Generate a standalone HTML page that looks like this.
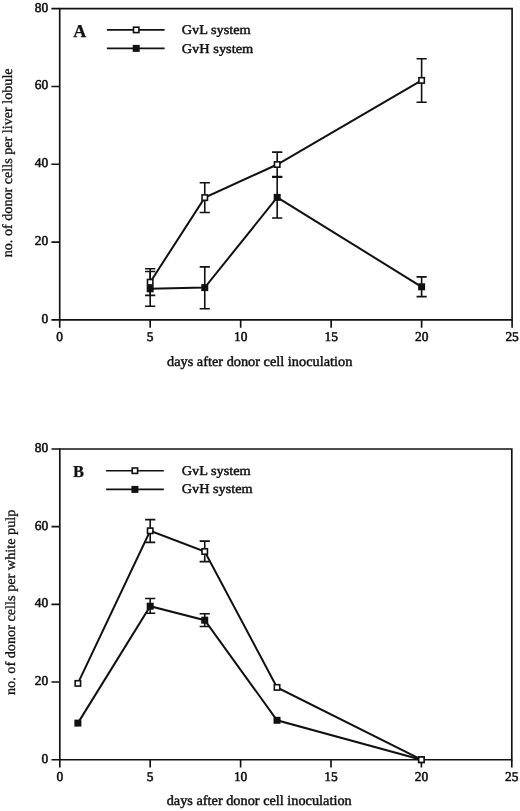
<!DOCTYPE html>
<html><head><meta charset="utf-8"><title>Figure</title>
<style>
html,body{margin:0;padding:0;background:#fff;}
body{width:520px;height:811px;overflow:hidden;font-family:"Liberation Serif", serif;}
svg{display:block;will-change:transform;filter:grayscale(1);}
text{text-rendering:geometricPrecision;font-family:"Liberation Serif", serif;fill:#111;stroke:#111;stroke-width:0.45px;stroke-linejoin:round;}
.tk{font-size:13.4px;stroke-width:0.55px;text-rendering:geometricPrecision;}
.lg{font-size:13.3px;}
.ax{font-size:14px;}
.yl{stroke-width:0.32px;}
.pl{font-size:18px;font-weight:bold;stroke-width:0.25px;}
</style></head><body>
<svg width="520" height="811" viewBox="0 0 520 811">
<rect width="520" height="811" fill="#fff"/>
<g id="panelA">
<path d="M59.7 319.85V8.65H512.1V319.85Z" fill="none" stroke="#111" stroke-width="1.65"/>
<path d="M51.4 319.85H59.7M51.4 242.05H59.7M51.4 164.25H59.7M51.4 86.45H59.7M51.4 8.65H59.7M59.7 319.85V327.75M150.18 319.85V327.75M240.66 319.85V327.75M331.14 319.85V327.75M421.62 319.85V327.75M512.1 319.85V327.75" stroke="#111" stroke-width="1.65" fill="none"/>
<text transform="translate(48.1 322.8) scale(1 1)" text-anchor="end" class="tk">0</text>
<text transform="translate(48.1 245) scale(1 1)" text-anchor="end" class="tk">20</text>
<text transform="translate(48.1 167.2) scale(1 1)" text-anchor="end" class="tk">40</text>
<text transform="translate(48.1 89.4) scale(1 1)" text-anchor="end" class="tk">60</text>
<text transform="translate(48.1 11.6) scale(1 1)" text-anchor="end" class="tk">80</text>
<text transform="translate(59.7 341.45) scale(1 1)" text-anchor="middle" class="tk">0</text>
<text transform="translate(150.18 341.45) scale(1 1)" text-anchor="middle" class="tk">5</text>
<text transform="translate(240.66 341.45) scale(1 1)" text-anchor="middle" class="tk">10</text>
<text transform="translate(331.14 341.45) scale(1 1)" text-anchor="middle" class="tk">15</text>
<text transform="translate(421.62 341.45) scale(1 1)" text-anchor="middle" class="tk">20</text>
<text transform="translate(512.1 341.45) scale(1 1)" text-anchor="middle" class="tk">25</text>
<path d="M150.18 271.5V306.2M145.08 271.5H155.28M145.08 306.2H155.28M204.76 266.9V308.7M199.66 266.9H209.86M199.66 308.7H209.86M277.18 176.6V218M272.08 176.6H282.28M272.08 218H282.28M421.62 276.9V296.6M416.52 276.9H426.72M416.52 296.6H426.72" stroke="#111" stroke-width="1.6" fill="none"/>
<polyline points="150.18,288.8 204.76,287.6 277.18,197.4 421.62,286.8" fill="none" stroke="#111" stroke-width="2.0" stroke-linejoin="miter"/>
<rect x="146.68" y="285.3" width="7" height="7" fill="#111"/><rect x="201.26" y="284.1" width="7" height="7" fill="#111"/><rect x="273.68" y="193.9" width="7" height="7" fill="#111"/><rect x="418.12" y="283.3" width="7" height="7" fill="#111"/>
<path d="M150.18 268.8V295.4M145.08 268.8H155.28M145.08 295.4H155.28M204.76 182.8V212.5M199.66 182.8H209.86M199.66 212.5H209.86M277.18 152.1V177.1M272.08 152.1H282.28M272.08 177.1H282.28M421.62 58.8V102.3M416.52 58.8H426.72M416.52 102.3H426.72" stroke="#111" stroke-width="1.6" fill="none"/>
<polyline points="150.18,282.2 204.76,197.6 277.18,164.5 421.62,80.4" fill="none" stroke="#111" stroke-width="2.0" stroke-linejoin="miter"/>
<rect x="147.48" y="279.5" width="5.4" height="5.4" fill="#fff" stroke="#111" stroke-width="1.6"/><rect x="202.06" y="194.9" width="5.4" height="5.4" fill="#fff" stroke="#111" stroke-width="1.6"/><rect x="274.48" y="161.8" width="5.4" height="5.4" fill="#fff" stroke="#111" stroke-width="1.6"/><rect x="418.92" y="77.7" width="5.4" height="5.4" fill="#fff" stroke="#111" stroke-width="1.6"/>
<path d="M106.9 29.9H164.6M106.9 48.4H164.6" stroke="#111" stroke-width="1.6" fill="none"/>
<rect x="133.5" y="27.2" width="5.4" height="5.4" fill="#fff" stroke="#111" stroke-width="1.6"/>
<rect x="132.7" y="44.9" width="7" height="7" fill="#111"/>
<text x="181.7" y="34.4" class="lg" textLength="69.0" lengthAdjust="spacingAndGlyphs">GvL system</text>
<text x="181.7" y="52.8" class="lg" textLength="71.6" lengthAdjust="spacingAndGlyphs">GvH system</text>
<text transform="translate(73.3 36.5) scale(1 1)" class="pl" style="font-size:18px">A</text>
<text transform="translate(12.4 162.85) rotate(-90)" text-anchor="middle" class="ax yl" textLength="188.9" lengthAdjust="spacingAndGlyphs">no. of donor cells per liver lobule</text>
<text x="167.0" y="366.2" class="ax" textLength="185.3" lengthAdjust="spacingAndGlyphs">days after donor cell inoculation</text>
</g>
<g id="panelB">
<path d="M59.8 759.7V449H511.8V759.7Z" fill="none" stroke="#111" stroke-width="1.65"/>
<path d="M51.5 759.7H59.8M51.5 682.03H59.8M51.5 604.35H59.8M51.5 526.67H59.8M51.5 449H59.8M59.8 759.7V767.6M150.2 759.7V767.6M240.6 759.7V767.6M331 759.7V767.6M421.4 759.7V767.6M511.8 759.7V767.6" stroke="#111" stroke-width="1.65" fill="none"/>
<text transform="translate(48.2 762.65) scale(1 1)" text-anchor="end" class="tk">0</text>
<text transform="translate(48.2 684.98) scale(1 1)" text-anchor="end" class="tk">20</text>
<text transform="translate(48.2 607.3) scale(1 1)" text-anchor="end" class="tk">40</text>
<text transform="translate(48.2 529.62) scale(1 1)" text-anchor="end" class="tk">60</text>
<text transform="translate(48.2 451.95) scale(1 1)" text-anchor="end" class="tk">80</text>
<text transform="translate(59.8 781.3) scale(1 1)" text-anchor="middle" class="tk">0</text>
<text transform="translate(150.2 781.3) scale(1 1)" text-anchor="middle" class="tk">5</text>
<text transform="translate(240.6 781.3) scale(1 1)" text-anchor="middle" class="tk">10</text>
<text transform="translate(331 781.3) scale(1 1)" text-anchor="middle" class="tk">15</text>
<text transform="translate(421.4 781.3) scale(1 1)" text-anchor="middle" class="tk">20</text>
<text transform="translate(511.8 781.3) scale(1 1)" text-anchor="middle" class="tk">25</text>
<path d="M150.2 598.5V613.3M145.1 598.5H155.3M145.1 613.3H155.3M204.73 613.8V626.5M199.63 613.8H209.83M199.63 626.5H209.83" stroke="#111" stroke-width="1.6" fill="none"/>
<polyline points="77.88,723.1 150.2,606.2 204.73,620.2 277.03,720.3 421.4,759.7" fill="none" stroke="#111" stroke-width="2.0" stroke-linejoin="miter"/>
<rect x="74.38" y="719.6" width="7" height="7" fill="#111"/><rect x="146.7" y="602.7" width="7" height="7" fill="#111"/><rect x="201.23" y="616.7" width="7" height="7" fill="#111"/><rect x="273.53" y="716.8" width="7" height="7" fill="#111"/><rect x="417.9" y="756.2" width="7" height="7" fill="#111"/>
<path d="M150.2 519.6V542.4M145.1 519.6H155.3M145.1 542.4H155.3M204.73 541.1V561.6M199.63 541.1H209.83M199.63 561.6H209.83" stroke="#111" stroke-width="1.6" fill="none"/>
<polyline points="77.88,683.4 150.2,530.8 204.73,551.5 277.03,687.4 421.4,759.7" fill="none" stroke="#111" stroke-width="2.0" stroke-linejoin="miter"/>
<rect x="75.18" y="680.7" width="5.4" height="5.4" fill="#fff" stroke="#111" stroke-width="1.6"/><rect x="147.5" y="528.1" width="5.4" height="5.4" fill="#fff" stroke="#111" stroke-width="1.6"/><rect x="202.03" y="548.8" width="5.4" height="5.4" fill="#fff" stroke="#111" stroke-width="1.6"/><rect x="274.33" y="684.7" width="5.4" height="5.4" fill="#fff" stroke="#111" stroke-width="1.6"/><rect x="418.7" y="757" width="5.4" height="5.4" fill="#fff" stroke="#111" stroke-width="1.6"/>
<path d="M106.1 470.7H163.8M106.1 489.4H163.8" stroke="#111" stroke-width="1.6" fill="none"/>
<rect x="132.2" y="468" width="5.4" height="5.4" fill="#fff" stroke="#111" stroke-width="1.6"/>
<rect x="131.4" y="485.9" width="7" height="7" fill="#111"/>
<text x="181.7" y="474.6" class="lg" textLength="69.0" lengthAdjust="spacingAndGlyphs">GvL system</text>
<text x="181.7" y="493.1" class="lg" textLength="71.0" lengthAdjust="spacingAndGlyphs">GvH system</text>
<text transform="translate(73.1 476.9) scale(0.98 1)" class="pl" style="font-size:16.8px">B</text>
<text transform="translate(15.3 602.35) rotate(-90)" text-anchor="middle" class="ax yl" textLength="185.5" lengthAdjust="spacingAndGlyphs">no. of donor cells per white pulp</text>
<text x="166.7" y="805.2" class="ax" textLength="185" lengthAdjust="spacingAndGlyphs">days after donor cell inoculation</text>
</g>
</svg>
</body></html>
